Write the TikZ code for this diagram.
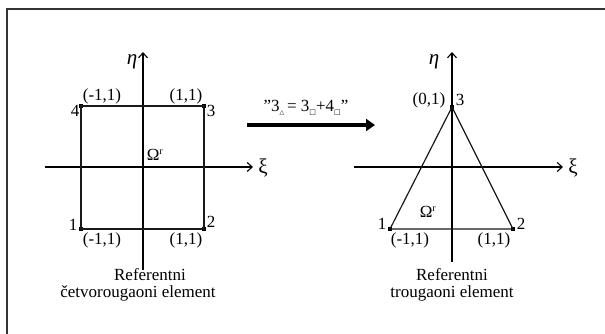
\documentclass[tikz,border=0pt]{standalone}
\usepackage{fontspec}
\setmainfont{Liberation Serif}
\newfontfamily\symfont{DejaVu Sans}
\usetikzlibrary{arrows.meta}
\begin{document}
\begin{tikzpicture}[x=1pt,y=-1pt,
  every node/.style={inner sep=0pt,font=\fontsize{17}{20}\selectfont},
  greek/.style={font=\fontsize{21}{24}\selectfont},
  edge/.style={line width=1.2pt,black!90},
  axis/.style={line width=1.1pt,black,-{Straight Barb[length=5pt,width=9pt]}},
  dot/.style={fill=black,minimum size=4pt,inner sep=0pt,draw=none,rectangle},
  frame/.style={line width=2.2pt,black!80},
  bigarrow/.style={line width=4pt,-{Triangle[length=9pt,width=12pt]}}]
\useasboundingbox (0,0) rectangle (605,334);
% frame (left and top edges visible)
\coordinate (fbl) at (7,340);
\coordinate (ftl) at (7,9);
\coordinate (ftr) at (610,9);
\draw[frame] (fbl) -- (ftl) -- (ftr);

% ---------- left: quadrilateral ----------
\coordinate (lxa) at (45,167);
\coordinate (lxb) at (253,167);
\coordinate (lya) at (143,270);
\coordinate (lyb) at (143,52);
\draw[axis] (lxa) -- (lxb);
\draw[axis] (lya) -- (lyb);
\node (q1) [dot] at (81,229) {};
\node (q2) [dot] at (204,229) {};
\node (q3) [dot] at (204,106) {};
\node (q4) [dot] at (81,106) {};
\draw[edge] (q1.center) -- (q2.center) -- (q3.center) -- (q4.center) -- cycle;
\node (leta) [greek] at (132,62) {\itshape η};
\node (lxi) [greek] at (263,168) {ξ};
\node (lom) at (155,155) {Ω\textsuperscript{\fontsize{10}{10}\selectfont r}};
\node (l4) at (75,111) {4};
\node (l3) at (211,111) {3};
\node (l1) at (73,225) {1};
\node (l2) at (211,222) {2};
\node (c4) at (102,96) {(-1,1)};
\node (c3) at (186,96) {(1,1)};
\node (c1) at (102,240) {(-1,1)};
\node (c2) at (186,240) {(1,1)};
\node (lcap1) at (150,275) {Referentni};
\node (lcap2) at (138,293) {četvorougaoni element};

% ---------- middle arrow ----------
\coordinate (ma) at (247,125);
\coordinate (mb) at (375,125);
\draw[bigarrow] (ma) -- (mb);
\node (mlab) at (306,108) {”3\raisebox{-0.35ex}{\symfont\fontsize{6}{6}\selectfont △}\,= 3\raisebox{-0.35ex}{\symfont\fontsize{7}{7}\selectfont □}+4\raisebox{-0.35ex}{\symfont\fontsize{7}{7}\selectfont □}”};

% ---------- right: triangle ----------
\coordinate (rxa) at (354,167);
\coordinate (rxb) at (563,167);
\coordinate (rya) at (452,262);
\coordinate (ryb) at (452,52);
\draw[axis] (rxa) -- (rxb);
\draw[axis] (rya) -- (ryb);
\node (t1) [dot] at (390,229) {};
\node (t2) [dot] at (513,229) {};
\node (t3) [dot] at (452,107) {};
\draw[edge] (t1.center) -- (t2.center) -- (t3.center) -- cycle;
\node (reta) [greek] at (434,62) {\itshape η};
\node (rxi) [greek] at (573,168) {ξ};
\node (rom) at (428,212) {Ω\textsuperscript{\fontsize{10}{10}\selectfont r}};
\node (r3c) at (429,100) {(0,1)};
\node (r3) at (460,100) {3};
\node (r1) at (382,224) {1};
\node (r2) at (521,224) {2};
\node (d1) at (410,240) {(-1,1)};
\node (d2) at (494,240) {(1,1)};
\node (rcap1) at (452,275) {Referentni};
\node (rcap2) at (452,293) {trougaoni element};
\end{tikzpicture}
\end{document}
